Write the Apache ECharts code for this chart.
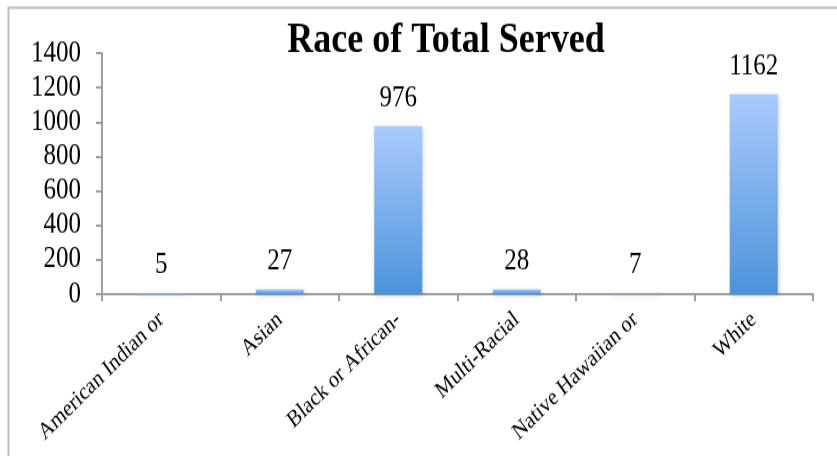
<!DOCTYPE html>
<html>
<head>
<meta charset="utf-8">
<script src="https://cdn.jsdelivr.net/npm/echarts@6/dist/echarts.min.js"></script>
<style>
html,body{margin:0;padding:0;background:#fff;overflow:hidden;width:837px;height:456px}
#c{width:837px;height:386px;transform:scaleY(1.1813);transform-origin:0 0}
</style>
</head>
<body>
<div id="c"></div>
<script>
const categories = ["American Indian or", "Asian", "Black or African-", "Multi-Racial", "Native Hawaiian or", "White"];
const values = [5, 27, 976, 28, 7, 1162];
const yTicks = [0, 200, 400, 600, 800, 1000, 1200, 1400];

const chart = echarts.init(document.getElementById('c'), null, {renderer: 'canvas'});
const serif = '"Liberation Serif", "Times New Roman", serif';
chart.setOption({
  animation: false,
  backgroundColor: '#fff',
  title: {
    text: 'Race of Total Served',
    left: 441, top: 12, textAlign: 'center',
    textStyle: {fontFamily: serif, fontWeight: 'bold', fontSize: 36, color: '#000'}
  },
  graphic: [{
    type: 'rect', left: 6, top: 4, z: -1,
    shape: {width: 900, height: 500},
    style: {fill: 'none', stroke: '#bdbdbd', lineWidth: 2}
  }],
  grid: {left: 102, right: 24, top: 45, bottom: 137, containLabel: false},
  xAxis: {
    type: 'category', data: categories,
    axisLine: {lineStyle: {color: '#9f9f9f', width: 2}},
    axisTick: {show: true, length: 6, lineStyle: {color: '#9f9f9f', width: 2}},
    axisLabel: {rotate: 40, fontFamily: serif, fontSize: 20, color: '#000', margin: 19, interval: 0}
  },
  yAxis: {
    type: 'value', min: yTicks[0], max: yTicks[yTicks.length - 1], interval: 200,
    axisLine: {show: true, lineStyle: {color: '#9f9f9f', width: 2}},
    axisTick: {show: true, length: 6, lineStyle: {color: '#9f9f9f', width: 2}},
    splitLine: {show: false},
    axisLabel: {fontFamily: serif, fontSize: 25, color: '#000', margin: 21, formatter: v => String(v)}
  },
  series: [{
    type: 'bar', data: values, barWidth: 48,
    itemStyle: {
      color: new echarts.graphic.LinearGradient(0, 0, 0, 1, [
        {offset: 0, color: '#a9cbfd'},
        {offset: 1, color: '#4d93da'}
      ]),
      shadowColor: 'rgba(0,0,0,0.18)', shadowBlur: 4, shadowOffsetX: 1, shadowOffsetY: 1
    },
    label: {show: true, position: 'top', distance: 11, fontFamily: serif, fontSize: 25, color: '#000'}
  }]
});
</script>
</body>
</html>
